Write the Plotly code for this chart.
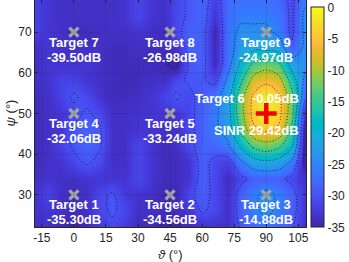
import plotly.graph_objects as go

# ---------------- data ----------------
theta = [-18, -12, -6, 0, 6, 12, 18, 24, 30, 36, 42, 48, 54, 60, 66, 72, 78, 84, 90, 96, 102, 108]
psi = [22, 26, 30, 34, 38, 42, 46, 50, 54, 58, 62, 66, 70, 74, 78]

gain_db = [
    [-33.5, -33.5, -34, -35.5, -34, -32.5, -31, -32.5, -34, -34, -35.5, -35.5, -34, -33.5, -33.5, -33.5, -29.5, -28, -27, -28, -29.5, -33.5],  # 22
    [-33, -33, -33.5, -34, -33.5, -31, -29.5, -31, -33.5, -33.5, -34, -34, -33, -29.5, -31, -33.5, -28.5, -26, -24, -26, -28.5, -33],  # 26
    [-33, -31.5, -33.5, -34, -33.5, -31, -29.5, -32.5, -33, -33.5, -34.5, -34.5, -31, -28.5, -31, -33.5, -28.5, -26, -23.5, -26, -28.5, -33],  # 30
    [-33.5, -33, -33.5, -33.5, -33, -33, -33, -33, -31, -33, -34, -34, -33, -28.5, -31, -34, -31, -29, -28.5, -29, -31, -33.5],  # 34
    [-34, -33.5, -33, -31, -29.5, -31, -33.5, -33.5, -31, -33, -34, -34, -33, -28.5, -31, -32, -26, -22, -21, -22, -26, -36],  # 38
    [-34, -33.5, -31.5, -29.5, -28.5, -29.5, -33.5, -33.5, -31, -33, -34, -33.5, -31, -28.5, -28, -26, -19, -14, -12, -14, -19, -36],  # 42
    [-34, -33.5, -33, -29.5, -28.5, -29.5, -33.5, -33.5, -33, -33, -33.5, -33.5, -31, -28.5, -26, -23, -14, -6, -4, -6, -16, -36],  # 46
    [-34, -33.5, -33, -31, -29.5, -31, -33.5, -33.5, -33, -33, -33, -33, -31, -28.5, -26, -22, -12, -3.5, 0, -3.5, -13, -34],  # 50
    [-34, -33.5, -31.5, -29.5, -31, -33, -34, -34, -33.5, -33, -31.5, -29.5, -31, -28.5, -27, -22, -12, -4, -1, -4, -13, -29],  # 54
    [-33.5, -33, -31.5, -31.5, -33, -33.5, -34, -34.5, -34, -33.5, -33.5, -31, -29.5, -29.5, -31, -24, -16, -8, -6, -8, -17, -26],  # 58
    [-33.5, -33, -33, -33, -33, -33.5, -34, -34, -34, -34, -34.5, -36, -29.5, -28.5, -34, -27, -19, -14, -12, -14, -22, -24],  # 62
    [-33.5, -33, -33.5, -33.5, -33.5, -33.5, -34, -34, -33.5, -34, -34, -33.5, -28.5, -28.5, -34.5, -27, -23, -21, -21, -22, -29, -24],  # 66
    [-31.5, -33, -33.5, -34, -34, -33.5, -33.5, -33.5, -33, -33.5, -34, -31, -28.5, -28.5, -34.5, -27, -24, -24, -24, -26, -31, -24],  # 70
    [-31.5, -33, -33.5, -33.5, -33.5, -33.5, -33.5, -33, -31, -33, -33.5, -31, -29.5, -28, -33, -27.5, -26, -26, -26, -27, -31, -24],  # 74
    [-31.5, -33, -33.5, -33.5, -33.5, -33.5, -33.5, -33, -31, -33, -33.5, -31, -29.5, -28, -32, -27.5, -27, -27, -27, -28, -31, -26],  # 78
]

target_names = ["Target 1", "Target 2", "Target 3", "Target 4", "Target 5", "Target 7", "Target 8", "Target 9"]
target_theta = [0, 45, 90, 0, 45, 0, 45, 90]
target_psi = [30, 30, 30, 50, 50, 70, 70, 70]
target_gain = ["-35.30dB", "-34.56dB", "-14.88dB", "-32.06dB", "-33.24dB", "-39.50dB", "-26.98dB", "-24.97dB"]

main_name = "Target 6"
main_theta = [90]
main_psi = [50]
main_gain = "-0.05dB"
sinr_text = "SINR 29.42dB"

x_ticks = [-15, 0, 15, 30, 45, 60, 75, 90, 105]
y_ticks = [30, 40, 50, 60, 70]
cbar_ticks = [0, -5, -10, -15, -20, -25, -30, -35]

parula = [
    (0.2422, 0.1504, 0.6603), (0.2504, 0.1650, 0.7076), (0.2578, 0.1818, 0.7511), (0.2647, 0.1978, 0.7952),
    (0.2706, 0.2147, 0.8364), (0.2751, 0.2342, 0.8710), (0.2783, 0.2559, 0.8991), (0.2803, 0.2782, 0.9221),
    (0.2813, 0.3006, 0.9414), (0.2810, 0.3228, 0.9579), (0.2795, 0.3447, 0.9717), (0.2760, 0.3667, 0.9829),
    (0.2699, 0.3892, 0.9906), (0.2602, 0.4123, 0.9952), (0.2440, 0.4358, 0.9988), (0.2206, 0.4603, 0.9973),
    (0.1963, 0.4847, 0.9892), (0.1834, 0.5074, 0.9798), (0.1786, 0.5289, 0.9682), (0.1764, 0.5499, 0.9520),
    (0.1687, 0.5703, 0.9359), (0.1540, 0.5902, 0.9218), (0.1460, 0.6091, 0.9079), (0.1380, 0.6276, 0.8973),
    (0.1248, 0.6459, 0.8883), (0.1113, 0.6635, 0.8763), (0.0952, 0.6798, 0.8598), (0.0689, 0.6948, 0.8394),
    (0.0297, 0.7082, 0.8163), (0.0036, 0.7203, 0.7917), (0.0067, 0.7312, 0.7660), (0.0433, 0.7411, 0.7394),
    (0.0964, 0.7500, 0.7120), (0.1408, 0.7584, 0.6842), (0.1717, 0.7670, 0.6554), (0.1938, 0.7758, 0.6251),
    (0.2161, 0.7843, 0.5923), (0.2470, 0.7918, 0.5567), (0.2906, 0.7973, 0.5188), (0.3406, 0.8008, 0.4789),
    (0.3909, 0.8029, 0.4354), (0.4456, 0.8024, 0.3909), (0.5044, 0.7993, 0.3480), (0.5616, 0.7942, 0.3045),
    (0.6174, 0.7876, 0.2612), (0.6720, 0.7793, 0.2227), (0.7242, 0.7698, 0.1910), (0.7738, 0.7598, 0.1646),
    (0.8203, 0.7498, 0.1535), (0.8634, 0.7406, 0.1596), (0.9035, 0.7330, 0.1774), (0.9393, 0.7288, 0.2100),
    (0.9728, 0.7298, 0.2394), (0.9956, 0.7434, 0.2371), (0.9970, 0.7659, 0.2199), (0.9952, 0.7893, 0.2028),
    (0.9892, 0.8136, 0.1885), (0.9786, 0.8386, 0.1766), (0.9676, 0.8639, 0.1643), (0.9610, 0.8890, 0.1537),
    (0.9597, 0.9135, 0.1423), (0.9628, 0.9373, 0.1265), (0.9691, 0.9606, 0.1064), (0.9769, 0.9839, 0.0805),
]
n = len(parula)
colorscale = [[i / (n - 1), "rgb(%d,%d,%d)" % (r * 255, g * 255, b * 255)] for i, (r, g, b) in enumerate(parula)]

FONT = "Liberation Sans, Arial, Helvetica, sans-serif"
TXT = "#262626"

fig = go.Figure()

fig.add_trace(go.Heatmap(
    x=theta, y=psi, z=gain_db, zmin=-35, zmax=0, zsmooth="best",
    colorscale=colorscale, hoverinfo="skip",
    colorbar=dict(
        x=1.0185, xanchor="left", xpad=0,
        y=0.4824, yanchor="middle", ypad=0,
        thickness=13, lenmode="pixels", len=220,
        tickvals=cbar_ticks, ticktext=[str(v) for v in cbar_ticks],
        ticks="", ticklen=0, ticklabeloverflow="allow",
        tickfont=dict(family=FONT, size=12, color=TXT),
        outlinewidth=1, outlinecolor=TXT,
    ),
))

fig.add_trace(go.Contour(
    x=theta, y=psi, z=gain_db,
    contours=dict(start=-35, end=-5, size=5, coloring="none"),
    line=dict(color="rgba(0,0,0,0.7)", width=1, dash="1px,2px", smoothing=1),
    showscale=False, hoverinfo="skip",
))

fig.add_trace(go.Scatter(
    x=target_theta, y=target_psi, mode="markers",
    marker=dict(symbol="x-thin", size=9, line=dict(width=3.2, color="rgb(165,165,165)")),
    hoverinfo="skip", showlegend=False,
))

fig.add_trace(go.Scatter(
    x=main_theta, y=main_psi, mode="markers",
    marker=dict(symbol="cross-thin", size=15, line=dict(width=4.5, color="rgb(255,0,0)")),
    hoverinfo="skip", showlegend=False,
))

annotations = []
lab_font = dict(family=FONT, size=13, color="white")
for name, tx, ty, gv in zip(target_names, target_theta, target_psi, target_gain):
    annotations.append(dict(x=tx, y=ty, text="<b>%s</b>" % name, showarrow=False,
                            xanchor="center", yanchor="middle", yshift=-10, font=lab_font))
    annotations.append(dict(x=tx, y=ty, text="<b>%s</b>" % gv, showarrow=False,
                            xanchor="center", yanchor="middle", yshift=-25, font=lab_font))
annotations.append(dict(x=main_theta[0], y=main_psi[0], text="<b>%s  %s</b>" % (main_name, main_gain),
                        showarrow=False, xanchor="center", yanchor="middle",
                        xshift=-19.5, yshift=15, font=lab_font))
annotations.append(dict(x=main_theta[0], y=main_psi[0], text="<b>%s</b>" % sinr_text,
                        showarrow=False, xanchor="center", yanchor="middle",
                        xshift=-9.5, yshift=-17, font=lab_font))
# axis titles
ax_font = dict(family=FONT, size=13, color=TXT)
annotations.append(dict(xref="paper", yref="paper", x=0.5, y=0, yshift=-27, text="<i>ϑ</i> (°)",
                        showarrow=False, xanchor="center", yanchor="middle", font=ax_font))
annotations.append(dict(xref="paper", yref="paper", x=0, y=0.5, xshift=-25, text="<i>ψ</i> (°)",
                        showarrow=False, xanchor="center", yanchor="middle", textangle=-90, font=ax_font))

# faint MATLAB-like grid over the image
shapes = []
for xv in x_ticks:
    shapes.append(dict(type="line", xref="x", yref="paper", x0=xv, x1=xv, y0=0, y1=1,
                       line=dict(color="rgba(40,40,40,0.15)", width=1), layer="above"))
for yv in y_ticks:
    shapes.append(dict(type="line", xref="paper", yref="y", x0=0, x1=1, y0=yv, y1=yv,
                       line=dict(color="rgba(40,40,40,0.15)", width=1), layer="above"))

fig.update_layout(
    width=349, height=262,
    margin=dict(l=35, r=43, t=0, b=35, autoexpand=False),
    paper_bgcolor="white", plot_bgcolor="white",
    showlegend=False,
    annotations=annotations, shapes=shapes,
    font=dict(family=FONT, size=12, color=TXT),
)

fig.update_xaxes(
    range=[-18.2, 108.6], tickvals=x_ticks, ticktext=[str(v) for v in x_ticks],
    showgrid=False, zeroline=False, showline=True, linecolor=TXT, linewidth=1, mirror="ticks",
    ticks="inside", ticklen=3, tickcolor=TXT, tickfont=dict(family=FONT, size=12, color=TXT),
    layer="above traces",
)
fig.update_yaxes(
    range=[22.1, 77.9], tickvals=y_ticks, ticktext=[str(v) for v in y_ticks],
    showgrid=False, zeroline=False, showline=True, linecolor=TXT, linewidth=1, mirror="ticks",
    ticks="inside", ticklen=3, tickcolor=TXT, tickfont=dict(family=FONT, size=12, color=TXT),
    layer="above traces",
)

fig.write_html("out.html", config={"displayModeBar": False},
               post_script="document.body.style.margin='0';document.body.style.overflow='hidden';")
